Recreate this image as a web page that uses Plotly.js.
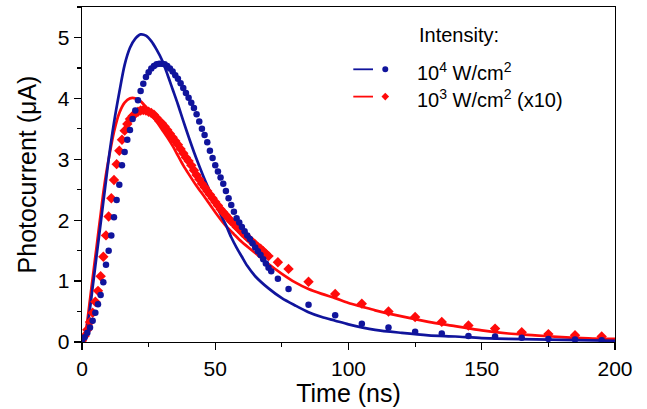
<!DOCTYPE html>
<html>
<head>
<meta charset="utf-8">
<script src="https://cdn.plot.ly/plotly-3.0.1.min.js"></script>
<style>html,body{margin:0;padding:0;background:#fff;}#chart{width:647px;height:409px;}</style>
</head>
<body>
<div id="chart"></div>
<script>
// ---- data ----
const blueDotT = [0,1,2,3,4,5,6,7,8,9,10,11,12,13,14,15,16,17,18,19,20,21,22,23,24,25,26,27,28,29,30,31,32,33,34,35,36,37,38,39,40,41,42,43,44,45,46,47,48,49,50,51,52,53,54,55,56,57,58,59,60,61,62,63,64,65,66,67,68,69,70,71,73.5,77.5,85,95,105,115,125,135,145,155,165,175,185,195];
const blueDotV = [0.03,0.08,0.15,0.24,0.35,0.48,0.62,0.77,0.98,1.27,1.50,1.75,2.05,2.33,2.58,2.90,3.12,3.32,3.48,3.66,3.80,3.97,4.12,4.24,4.35,4.43,4.49,4.53,4.56,4.57,4.57,4.56,4.53,4.49,4.44,4.38,4.32,4.25,4.17,4.09,4.01,3.93,3.84,3.74,3.62,3.50,3.40,3.28,3.14,3.02,2.90,2.80,2.70,2.60,2.48,2.36,2.25,2.14,2.03,1.96,1.89,1.82,1.75,1.69,1.62,1.55,1.49,1.43,1.36,1.29,1.22,1.16,1.04,0.87,0.61,0.44,0.30,0.24,0.17,0.14,0.10,0.09,0.07,0.05,0.04,0.03];

const redDotT = [0,1,2,3,4,5,6,7,8,9,10,11,12,13,14,15,16,17,18,19,20,21,22,23,24,25,26,27,28,29,30,31,32,33,34,35,36,37,38,39,40,41,42,43,44,45,46,47,48,49,50,51,52,53,54,55,56,57,58,59,60,61,62,63,64,65,66,67,68,69,70,73.5,77.5,85,95,105,115,125,135,145,155,165,175,185,195];
const redDotV = [0.02,0.10,0.20,0.33,0.48,0.66,0.84,1.08,1.40,1.75,2.06,2.36,2.66,2.92,3.14,3.32,3.47,3.58,3.66,3.71,3.75,3.78,3.80,3.81,3.80,3.78,3.76,3.73,3.68,3.63,3.59,3.54,3.48,3.42,3.36,3.30,3.24,3.17,3.10,3.03,2.97,2.90,2.82,2.74,2.67,2.60,2.54,2.48,2.42,2.36,2.30,2.24,2.18,2.13,2.08,2.03,1.98,1.94,1.89,1.85,1.80,1.76,1.72,1.68,1.64,1.60,1.56,1.53,1.49,1.45,1.41,1.31,1.20,0.99,0.79,0.63,0.50,0.41,0.33,0.27,0.22,0.16,0.13,0.11,0.09];

const blueLineT = [0,1,2,3,4,5,6,7,8,9,10,12,14,16,18,20,22,24,26,28,30,32,34,36,38,40,42,44,46,48,50,52,54,56,58,60,62,65,70,75,80,85,90,95,100,110,120,130,140,150,160,180,200];
const blueLineV = [0,0.05,0.25,0.55,0.90,1.25,1.60,1.95,2.30,2.65,3.00,3.60,4.10,4.55,4.83,4.98,5.05,5.03,4.94,4.80,4.63,4.40,4.15,3.90,3.63,3.37,3.12,2.89,2.67,2.47,2.28,2.10,1.92,1.72,1.55,1.40,1.25,1.08,0.88,0.72,0.60,0.49,0.41,0.35,0.29,0.20,0.15,0.11,0.09,0.065,0.05,0.035,0.02];

const redLineT = [0,1,2,3,4,5,6,7,8,9,10,12,14,16,18,20,22,24,26,28,30,32,34,36,38,40,43,46,50,53.5,57,60,65,70,75,80,85,90,95,100,105,110,120,130,140,150,160,170,180,190,200];
const redLineV = [0,0.08,0.35,0.70,1.05,1.40,1.75,2.10,2.45,2.75,3.00,3.45,3.76,3.93,4.00,4.00,3.95,3.86,3.75,3.62,3.49,3.36,3.22,3.06,2.90,2.76,2.56,2.38,2.13,1.93,1.77,1.64,1.46,1.28,1.12,0.98,0.87,0.79,0.72,0.64,0.58,0.52,0.42,0.33,0.26,0.19,0.14,0.11,0.08,0.06,0.05];

const xTicks = [0,50,100,150,200];
const yTicks = [0,1,2,3,4,5];
const legendTitle = 'Intensity:';
const seriesNames = ['10<sup>4</sup> W/cm<sup>2</sup>', '10<sup>3</sup> W/cm<sup>2</sup> (x10)'];

// ---- styles ----
const BLUE = 'rgb(16,20,156)';
const RED = 'rgb(255,10,10)';
const FONT = 'Liberation Sans, Arial, sans-serif';

const traces = [
  {x: redLineT, y: redLineV, mode: 'lines', line: {color: RED, width: 2.7, shape: 'spline', smoothing: 0.8}, showlegend: false, hoverinfo: 'skip'},
  {x: blueLineT, y: blueLineV, mode: 'lines', line: {color: BLUE, width: 2.7, shape: 'spline', smoothing: 0.8}, showlegend: false, hoverinfo: 'skip'},
  {x: redDotT, y: redDotV, mode: 'markers', marker: {symbol: 'diamond', size: 8, color: RED}, showlegend: false},
  {x: blueDotT, y: blueDotV, mode: 'markers', marker: {symbol: 'circle', size: 6.5, color: BLUE}, showlegend: false}
];

// legend drawn as paper-anchored decorations
const legX0 = 0.509, legX1 = 0.546, legSym = 0.569, legText = 0.625;
const legY = [0.814, 0.7325];
const shapes = [];
const colors = [BLUE, RED];
legY.forEach((y, i) => {
  shapes.push({type: 'line', xref: 'paper', yref: 'paper', x0: legX0, x1: legX1, y0: y, y1: y, line: {color: colors[i], width: 1.8}});
});
shapes.push({type: 'circle', xref: 'paper', yref: 'paper', xsizemode: 'pixel', ysizemode: 'pixel', xanchor: legSym, yanchor: legY[0], x0: -3, x1: 3, y0: -3, y1: 3, fillcolor: BLUE, line: {width: 0}});
shapes.push({type: 'path', xref: 'paper', yref: 'paper', xsizemode: 'pixel', ysizemode: 'pixel', xanchor: legSym, yanchor: legY[1], path: 'M 0 -3.8 L 3.8 0 L 0 3.8 L -3.8 0 Z', fillcolor: RED, line: {width: 0}});

const annotations = [
  {xref: 'paper', yref: 'paper', x: 0.629, y: 0.9165, xanchor: 'left', yanchor: 'middle', text: legendTitle, showarrow: false, font: {family: FONT, size: 20, color: '#000'}},
  {xref: 'paper', yref: 'paper', x: legText, y: legY[0] - 0.006, xanchor: 'left', yanchor: 'middle', text: seriesNames[0], showarrow: false, font: {family: FONT, size: 20, color: '#000'}},
  {xref: 'paper', yref: 'paper', x: legText, y: legY[1] - 0.006, xanchor: 'left', yanchor: 'middle', text: seriesNames[1], showarrow: false, font: {family: FONT, size: 20, color: '#000'}}
];

const layout = {
  width: 647, height: 409,
  margin: {l: 82, r: 32, t: 7, b: 67},
  paper_bgcolor: '#fff', plot_bgcolor: '#fff',
  font: {family: FONT, color: '#000'},
  xaxis: {
    range: [0, 200], tickvals: xTicks, ticktext: xTicks.map(String),
    showline: true, mirror: true, linecolor: '#000', linewidth: 1.3,
    ticks: 'outside', ticklen: 7, tickwidth: 1.3, tickcolor: '#000',
    minor: {dtick: 25, ticks: 'outside', ticklen: 4, tickwidth: 1.2, tickcolor: '#000', showgrid: false},
    showgrid: false, zeroline: false,
    tickfont: {family: FONT, size: 21, color: '#000'},
    title: {text: 'Time (ns)', font: {family: FONT, size: 25, color: '#000'}, standoff: 2}
  },
  yaxis: {
    range: [0, 5.5], tickvals: yTicks, ticktext: yTicks.map(String),
    showline: true, mirror: true, linecolor: '#000', linewidth: 1.3,
    ticks: 'outside', ticklen: 7, tickwidth: 1.3, tickcolor: '#000',
    minor: {dtick: 0.5, ticks: 'outside', ticklen: 4, tickwidth: 1.2, tickcolor: '#000', showgrid: false},
    showgrid: false, zeroline: false,
    tickfont: {family: FONT, size: 21, color: '#000'},
    title: {text: 'Photocurrent (μA)', font: {family: FONT, size: 25, color: '#000'}, standoff: 14}
  },
  shapes: shapes,
  annotations: annotations,
  showlegend: false
};

Plotly.newPlot('chart', traces, layout, {displayModeBar: false, staticPlot: true});
</script>
</body>
</html>
